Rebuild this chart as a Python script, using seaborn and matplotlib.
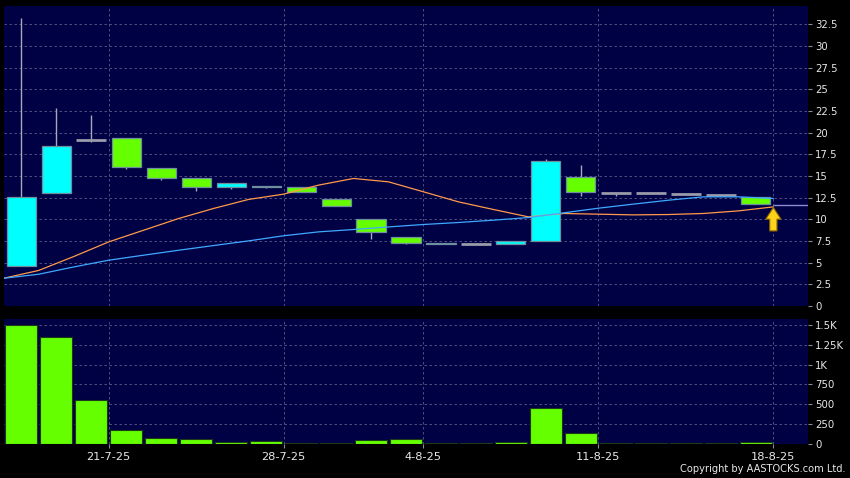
import numpy as np
import matplotlib
matplotlib.use("Agg")
import matplotlib.pyplot as plt
import seaborn as sns

# Daily candles (index 0 = 16-7-25)
opens = [4.67, 12.98, 19.14, 19.33, 15.87, 14.71, 13.67, 13.86, 13.75, 12.29, 9.98,
         7.97, 7.32, 7.16, 7.20, 7.50, 14.90, 13.00, 12.98, 12.90, 12.80, 12.52]
closes = [12.59, 18.41, 19.14, 15.98, 14.71, 13.67, 14.14, 13.67, 13.10, 11.48, 8.59,
          7.24, 7.10, 7.16, 7.44, 16.75, 13.10, 13.00, 12.98, 12.90, 12.80, 11.71]
highs = [33.2, 22.8, 22.0, 19.33, 15.87, 14.71, 14.14, 13.86, 13.75, 12.29, 9.98,
         7.97, 7.32, 7.16, 7.44, 16.9, 16.25, 13.0, 12.98, 12.9, 12.8, 12.52]
lows = [4.67, 12.98, 18.9, 15.8, 14.48, 13.28, 13.5, 13.6, 13.1, 11.48, 7.74,
        7.2, 7.1, 7.16, 7.1, 7.5, 12.7, 12.7, 12.98, 12.9, 12.8, 11.71]
volumes = [1505, 1351, 546, 165, 67, 63, 25, 29, 2, 12, 40,
           55, 3, 2, 13, 449, 131, 8, 10, 8, 8, 17]

# moving averages, sampled between candles
ma_x = np.arange(-0.5, 22, 1.0)
ma_fast = [3.2, 4.1, 5.7, 7.39, 8.74, 10.09, 11.25, 12.29, 12.9, 13.94, 14.71, 14.32,
           13.17, 12.01, 11.13, 10.28, 10.67, 10.59, 10.51, 10.55, 10.67, 10.97, 11.43]
ma_slow = [3.2, 3.66, 4.5, 5.28, 5.86, 6.43, 6.97, 7.51, 8.1, 8.55, 8.82, 9.12,
           9.4, 9.63, 9.9, 10.2, 10.74, 11.28, 11.75, 12.2, 12.59, 12.59, 12.4]

last_price = 11.6
date_pos = [2.5, 7.5, 11.5, 16.5, 21.5]
date_labels = ["21-7-25", "28-7-25", "4-8-25", "11-8-25", "18-8-25"]
price_ticks = np.arange(0, 33, 2.5)
vol_ticks = [0, 250, 500, 750, 1000, 1250, 1500]
vol_labels = ["0", "250", "500", "750", "1K", "1.25K", "1.5K"]

sns.set_theme(style="dark")
plt.rcParams["font.family"] = ["DejaVu Sans"]

navy = "#000044"
grid_c = "#5c5c88"
up_c = "#00ffff"
down_c = "#66ff00"
text_c = "#e8e8e8"

fig = plt.figure(figsize=(8.5, 4.78), dpi=100, facecolor="black")
ax = fig.add_axes([4 / 850, 1 - 306 / 478, 804 / 850, 300 / 478])
axv = fig.add_axes([4 / 850, 1 - 443.5 / 478, 804 / 850, 124.5 / 478])

idx = np.arange(len(opens))

for a in (ax, axv):
    a.set_facecolor(navy)
    for s in a.spines.values():
        s.set_visible(False)
    a.set_xlim(-0.49, 22.49)
    a.yaxis.tick_right()
    a.tick_params(axis="y", colors="#8a8a9a", labelcolor=text_c, labelsize=7.3,
                  direction="out", length=3, width=0.8, pad=2, right=True, left=False)
    a.grid(False)

# price panel
for p in price_ticks:
    ax.axhline(p, color=grid_c, lw=0.6, ls=(0, (3, 3)), zorder=0)
for d in date_pos:
    ax.axvline(d, color=grid_c, lw=0.6, ls=(0, (3, 3)), zorder=0)

ax.vlines(idx, lows, highs, color="#a8a8b8", lw=1, zorder=2)
for i in idx:
    o, c = opens[i], closes[i]
    if abs(c - o) < 1e-9:
        ax.hlines(o, i - 0.42, i + 0.42, color="#9a9aaa", lw=2, zorder=3)
    else:
        col = up_c if c > o else down_c
        ax.bar(i, abs(c - o), bottom=min(o, c), width=0.83, color=col,
               edgecolor="#6f8f9f", linewidth=0.9, zorder=3)

sns.lineplot(x=ma_x, y=ma_fast, ax=ax, color="#ff9a4a", lw=0.9, zorder=4)
sns.lineplot(x=ma_x, y=ma_slow, ax=ax, color="#3fa9ff", lw=0.9, zorder=4)
ax.hlines(last_price, 21.5, 22.49, color="#8a8ad0", lw=1, zorder=4)
ax.annotate("", xy=(21.5, 11.36), xytext=(21.5, 8.66),
            arrowprops=dict(arrowstyle="simple,head_width=0.55,head_length=0.42,tail_width=0.26",
                            mutation_scale=20, fc="#ffd21a", ec="#8a6a00", lw=0.8,
                            shrinkA=0, shrinkB=0),
            zorder=6)

ax.set_ylim(0, 34.6)
ax.set_yticks(price_ticks)
ax.set_yticklabels([f"{p:g}" for p in price_ticks])
ax.set_xticks([])
ax.set_xlabel("")
ax.set_ylabel("")

# volume panel
for v in vol_ticks:
    axv.axhline(v, color=grid_c, lw=0.6, ls=(0, (3, 3)), zorder=0)
for d in date_pos:
    axv.axvline(d, color=grid_c, lw=0.6, ls=(0, (3, 3)), zorder=0)

sns.barplot(x=idx, y=volumes, ax=axv, native_scale=True, color=down_c, saturation=1,
            width=0.9, edgecolor="#1a3a1a", linewidth=0.8, zorder=3)
axv.set_xlim(-0.49, 22.49)
axv.set_ylim(0, 1580)
axv.set_yticks(vol_ticks)
axv.set_yticklabels(vol_labels)
axv.set_xticks(date_pos)
axv.set_xticklabels(date_labels)
axv.tick_params(axis="x", colors="#8a8a9a", labelcolor=text_c, labelsize=8.2,
                direction="out", length=3, width=0.8, pad=3, bottom=True)
axv.set_xlabel("")
axv.set_ylabel("")

fig.text(0.995, 0.008, "Copyright by AASTOCKS.com Ltd.", ha="right", va="bottom",
         color=text_c, fontsize=7.1)

plt.savefig("out.png", dpi=100, facecolor="black")
